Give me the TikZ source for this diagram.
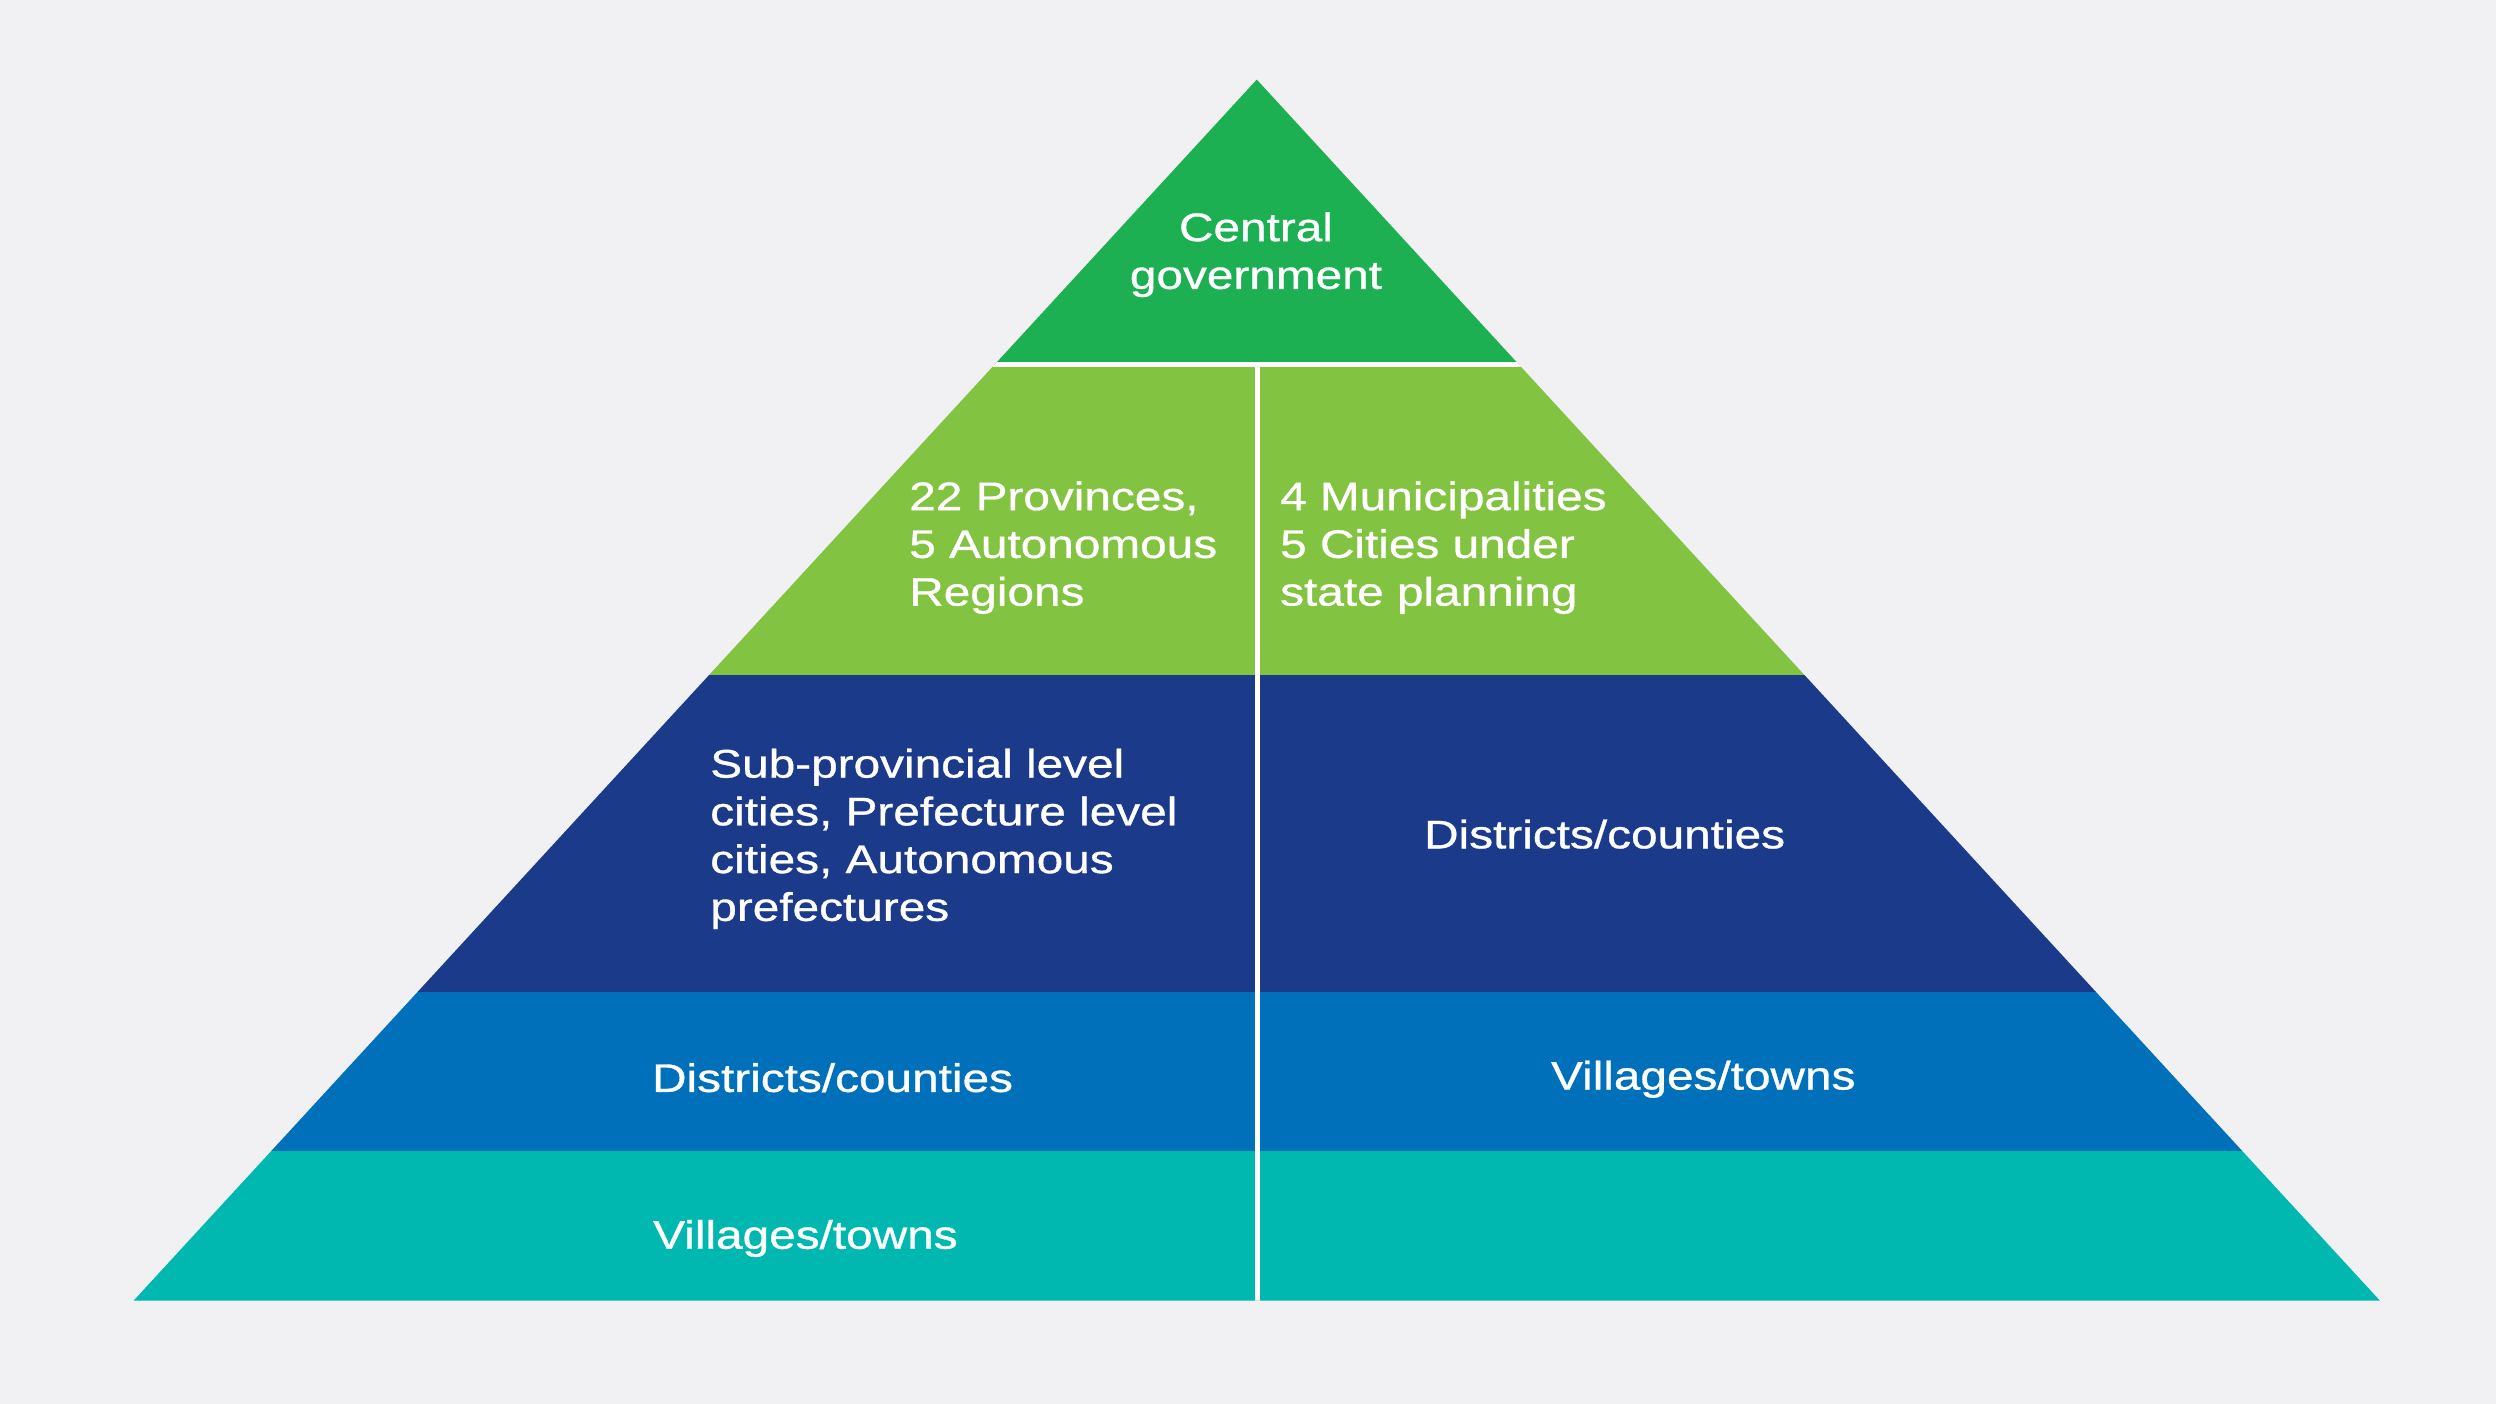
\documentclass[tikz,border=0pt]{standalone}
\usepackage{fontspec}
\setmainfont{Liberation Sans}[FakeStretch=1.2, FakeBold=0.8]
\definecolor{bgGray}{HTML}{F1F1F3}
\definecolor{topGreen}{HTML}{1DB052}
\definecolor{lightGreen}{HTML}{82C341}
\definecolor{darkBlue}{HTML}{1B3A8A}
\definecolor{midBlue}{HTML}{0070BA}
\definecolor{tealBand}{HTML}{00B8B0}
\begin{document}
\begin{tikzpicture}[x=1pt, y=-1pt,
    tierlabel/.style={text=white, font=\fontsize{25}{30}\selectfont, align=left, inner sep=0pt}]
            % Draw the background
            \fill[bgGray] (0,0) rectangle (1568,882);

            % Draw the pyramid bands
            \begin{scope}
                \clip (789.5,50) -- (1495,817) -- (84,817) -- cycle;
                \fill[topGreen] (0,0) rectangle (1568,229);
                \fill[lightGreen] (0,229) rectangle (1568,424);
                \fill[darkBlue] (0,424) rectangle (1568,623);
                \fill[midBlue] (0,623) rectangle (1568,723);
                \fill[tealBand] (0,723) rectangle (1568,817);
                % Draw the white dividers
                \draw[white, line width=3pt] (0,229) -- (1568,229);
                \draw[white, line width=3pt] (790,229) -- (790,817);
            \end{scope}

            % Draw the labels
            \node[tierlabel, align=center] (central) at (789,160) {Central\\government};
            \node[tierlabel, anchor=west] (provinces) at (571,344) {22 Provinces,\\5 Autonomous\\Regions};
            \node[tierlabel, anchor=west] (municipal) at (804,344) {4 Municipalities\\5 Cities under\\state planning};
            \node[tierlabel, anchor=west] (prefecture) at (446,527) {Sub-provincial level\\cities, Prefecture level\\cities, Autonomous\\prefectures};
            \node[tierlabel] (districtsR) at (1008,524) {Districts/counties};
            \node[tierlabel] (districtsL) at (523,677) {Districts/counties};
            \node[tierlabel] (villagesR) at (1070,678) {Villages/towns};
            \node[tierlabel] (villagesL) at (506,778) {Villages/towns};
        \end{tikzpicture}
\end{document}
